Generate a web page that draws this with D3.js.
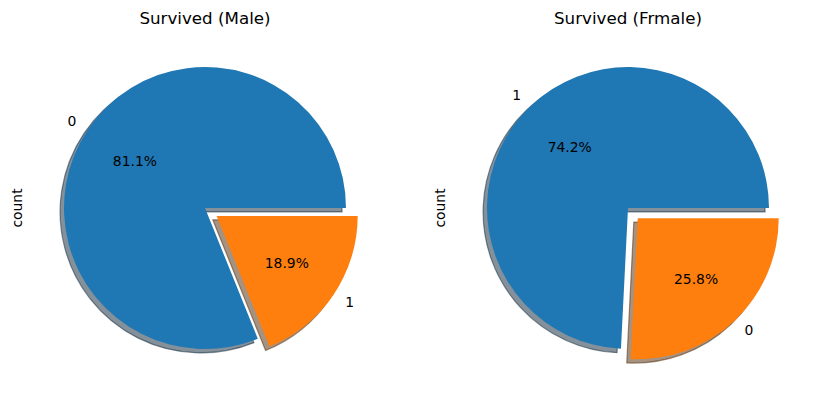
<!DOCTYPE html>
<html><head><meta charset="utf-8">
<script src="https://cdn.jsdelivr.net/npm/d3@7"></script>
<style>body{margin:0;background:#fff}svg{display:block}text{font-family:"DejaVu Sans",sans-serif;fill:#000}</style>
</head><body><svg id="c" width="814" height="394"></svg>
<script>
const titles = ["Survived (Male)", "Survived (Frmale)"];
const maleLabels = ["0", "1"];
const maleCounts = [468, 109];
const femaleLabels = ["1", "0"];
const femaleCounts = [233, 81];
const explode = [0, 0.1];
const colors = ["#1f77b4", "#ff7f0e"];

const svg = d3.select("#c");
const R = 141;
const panels = [
  {cx: 205, cy: 208, title: titles[0], labels: maleLabels, values: maleCounts, ylx: 17},
  {cx: 628, cy: 208, title: titles[1], labels: femaleLabels, values: femaleCounts, ylx: 440}
];
const shadowOff = 3.9;

panels.forEach(p => {
  const total = d3.sum(p.values);
  // matplotlib: start at 0 rad (3 o'clock), counterclockwise
  const angScale = d3.scaleLinear().domain([0, total]).range([0, 2 * Math.PI]);
  let cum = 0;
  const wedges = p.values.map((v, i) => {
    const a0 = angScale(cum); cum += v; const a1 = angScale(cum);
    return {i, v, a0, a1, mid: (a0 + a1) / 2};
  });
  // d3.arc angles: 0 at 12 o'clock, clockwise. Convert: d3a = PI/2 - mplAngle
  const arc = d3.arc().innerRadius(0).outerRadius(R);
  const g = svg.append("g").attr("transform", `translate(${p.cx},${p.cy})`);
  const off = w => {
    const e = explode[w.i] * R;
    return [e * Math.cos(w.mid), -e * Math.sin(w.mid)];
  };
  const path = w => arc({startAngle: Math.PI / 2 - w.a1, endAngle: Math.PI / 2 - w.a0});
  // shadows
  wedges.forEach(w => {
    const [dx, dy] = off(w);
    const c = d3.rgb(colors[w.i]);
    const sc = d3.rgb(c.r * 0.3, c.g * 0.3, c.b * 0.3);
    g.append("path").attr("d", path(w))
      .attr("transform", `translate(${dx - shadowOff},${dy + shadowOff})`)
      .attr("fill", sc).attr("fill-opacity", 0.5)
      .attr("stroke", sc).attr("stroke-opacity", 0.5).attr("stroke-width", 1.2);
  });
  wedges.forEach(w => {
    const [dx, dy] = off(w);
    g.append("path").attr("d", path(w))
      .attr("transform", `translate(${dx},${dy})`)
      .attr("fill", colors[w.i]);
    const lx = dx + 1.1 * R * Math.cos(w.mid), ly = dy - 1.1 * R * Math.sin(w.mid);
    g.append("text").attr("x", lx).attr("y", ly).attr("dy", "0.35em")
      .attr("text-anchor", lx < dx ? "end" : "start")
      .style("font-size", "13.9px").text(p.labels[w.i]);
    const px = dx + 0.6 * R * Math.cos(w.mid), py = dy - 0.6 * R * Math.sin(w.mid);
    g.append("text").attr("x", px).attr("y", py).attr("dy", "0.35em")
      .attr("text-anchor", "middle").style("font-size", "13.9px")
      .text((w.v / total * 100).toFixed(1) + "%");
  });
  svg.append("text").attr("x", p.cx).attr("y", 24).attr("text-anchor", "middle")
    .style("font-size", "16.7px").text(p.title);
  svg.append("text").attr("transform", `translate(${p.ylx},${p.cy}) rotate(-90)`)
    .attr("dy", "0.35em").attr("text-anchor", "middle").style("font-size", "13.9px").text("count");
});
</script></body></html>
